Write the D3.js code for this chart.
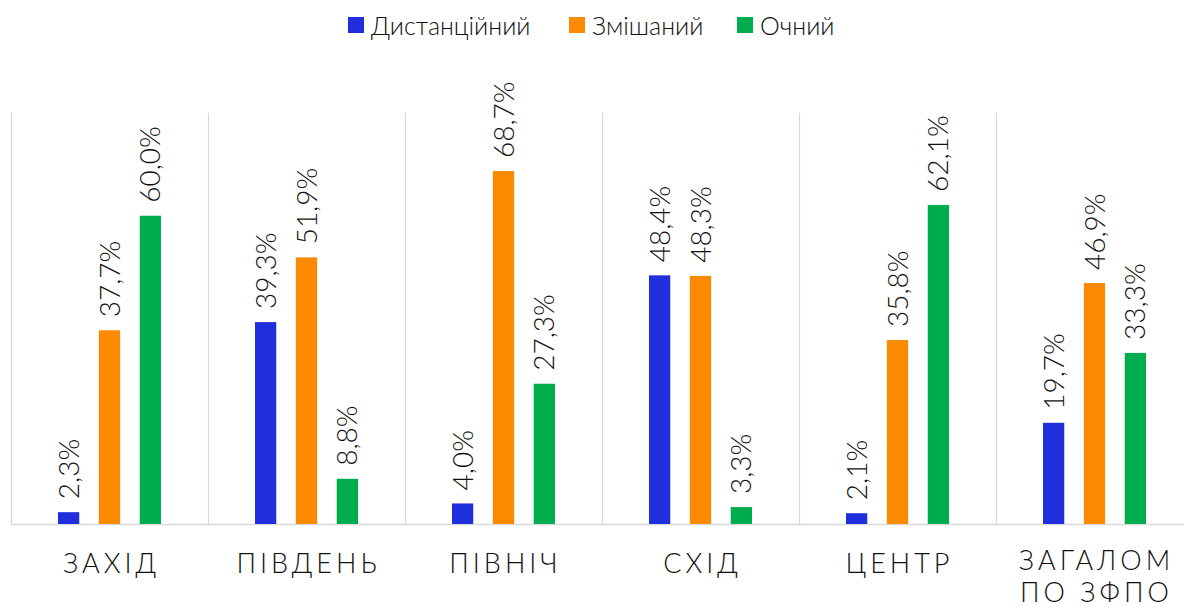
<!DOCTYPE html>
<html>
<head>
<meta charset="utf-8">
<script src="https://cdn.jsdelivr.net/npm/d3@7"></script>
<style>
  body { margin: 0; background: #fff; }
  svg { display: block; }
</style>
</head>
<body>
<script>
var W = 1184, H = 609;

var categories = [["ЗАХІД"], ["ПІВДЕНЬ"], ["ПІВНІЧ"], ["СХІД"], ["ЦЕНТР"], ["ЗАГАЛОМ", "ПО ЗФПО"]];
var seriesNames = ["Дистанційний", "Змішаний", "Очний"];
var seriesColors = ["#1f2fdc", "#fb8a00", "#00ad4e"];
var distance = [2.3, 39.3, 4.0, 48.4, 2.1, 19.7];
var mixed = [37.7, 51.9, 68.7, 48.3, 35.8, 46.9];
var inPerson = [60.0, 8.8, 27.3, 3.3, 62.1, 33.3];
var series = [distance, mixed, inPerson];

var svg = d3.select("body").append("svg").attr("width", W).attr("height", H);

var x = d3.scaleBand().domain(d3.range(categories.length)).range([11, 11 + 197 * 6]).padding(0);
var xs = d3.scaleBand().domain(d3.range(series.length)).range([47, 150]).paddingInner(0.48);
var y = d3.scaleLinear().domain([0, 80]).range([524, 113]);

var font = "Lato, 'Open Sans', sans-serif";

// separators
svg.append("g").selectAll("line")
  .data(d3.range(categories.length + 1))
  .enter().append("line")
  .attr("x1", function(d){ return d * 197 + 11.5; })
  .attr("x2", function(d){ return d * 197 + 11.5; })
  .attr("y1", y(80))
  .attr("y2", y(0))
  .attr("stroke", "#d9d9d9")
  .attr("stroke-width", 1.2);

// baseline
svg.append("line")
  .attr("x1", 11).attr("x2", W)
  .attr("y1", y(0) + 0.5).attr("y2", y(0) + 0.5)
  .attr("stroke", "#d9d9d9").attr("stroke-width", 1.5);

var g = svg.append("g");
series.forEach(function(vals, si){
  var sg = g.append("g");
  sg.selectAll("rect").data(vals).enter().append("rect")
    .attr("x", function(d, i){ return x(i) + xs(si); })
    .attr("y", function(d){ return y(d); })
    .attr("width", xs.bandwidth())
    .attr("height", function(d){ return y(0) - y(d); })
    .attr("fill", seriesColors[si]);
  sg.selectAll("text").data(vals).enter().append("text")
    .attr("transform", function(d, i){
      var cx = x(i) + xs(si) + xs.bandwidth() / 2 + 10;
      return "translate(" + cx + "," + (y(d) - 13) + ") rotate(-90)";
    })
    .attr("font-family", font)
    .attr("font-size", 28)
    .attr("font-weight", 300)
    .attr("fill", "#111")
    .text(function(d){ return d.toFixed(1).replace(".", ",") + "%"; });
});

// category labels
var cl = svg.append("g").selectAll("text").data(categories).enter().append("text")
  .attr("text-anchor", "middle")
  .attr("font-family", font)
  .attr("font-size", 27)
  .attr("font-weight", 300)
  .attr("letter-spacing", "4px")
  .attr("fill", "#111");
cl.each(function(d, i){
  var t = d3.select(this);
  var top = d.length > 1 ? 570 : 573;
  d.forEach(function(line, li){
    t.append("tspan")
      .attr("x", x(i) + x.bandwidth() / 2 + 2)
      .attr("y", top + li * 32)
      .text(line);
  });
});

// legend
var legendX = [348, 569, 737];
var lg = svg.append("g").selectAll("g").data(seriesNames).enter().append("g")
  .attr("transform", function(d, i){ return "translate(" + legendX[i] + ",0)"; });
lg.append("rect").attr("x", 0).attr("y", 17).attr("width", 16).attr("height", 16)
  .attr("fill", function(d, i){ return seriesColors[i]; });
lg.append("text").attr("x", 23).attr("y", 35)
  .attr("font-family", font).attr("font-size", 25).attr("font-weight", 300).attr("fill", "#111")
  .text(function(d){ return d; });
</script>
</body>
</html>
